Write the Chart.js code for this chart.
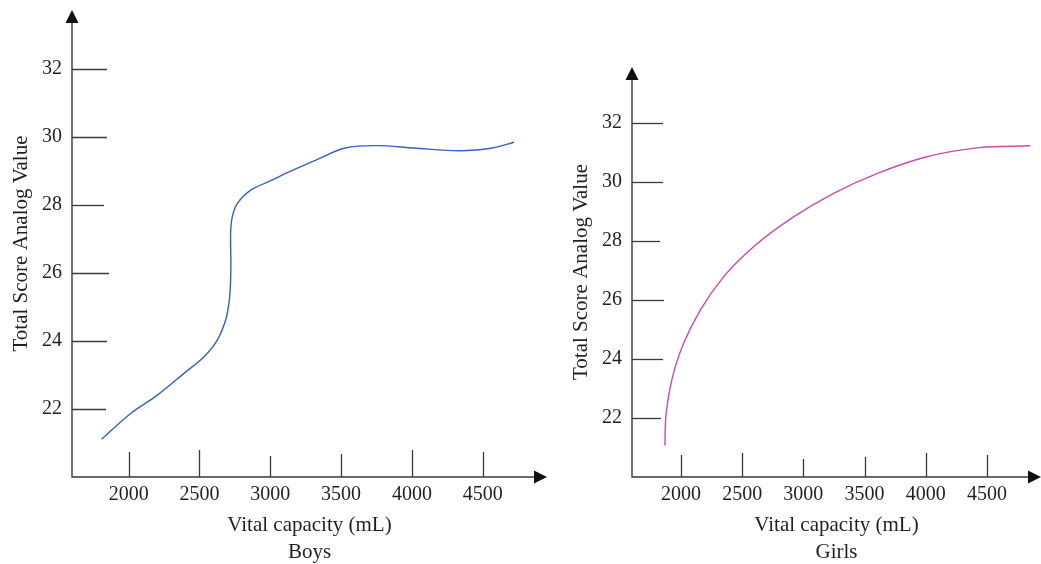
<!DOCTYPE html>
<html>
<head>
<meta charset="utf-8">
<script src="https://cdn.jsdelivr.net/npm/chart.js@4.4.1/dist/chart.umd.min.js"></script>
<style>
  html, body { margin: 0; padding: 0; background: #fff; }
  .panel { position: absolute; top: 0; height: 564px; }
  #boysWrap { left: 0; width: 560px; }
  #girlsWrap { left: 560px; width: 481px; }
</style>
</head>
<body>
<div class="panel" id="boysWrap"><canvas id="boys"></canvas></div>
<div class="panel" id="girlsWrap"><canvas id="girls"></canvas></div>
<script>
// tick labels shared by both panels
const xTicks = [2000, 2500, 3000, 3500, 4000, 4500];
const yTicks = [22, 24, 26, 28, 30, 32];

// Boys curve (vital capacity mL, score)
const boysX = [1809, 2014, 2203, 2391, 2532, 2626, 2685, 2708, 2718, 2722, 2720, 2732, 2768, 2862, 3015, 3124, 3326, 3529, 3757, 4011, 4340, 4568, 4721];
const boysY = [21.11, 21.87, 22.41, 23.05, 23.54, 24.03, 24.62, 25.11, 25.6, 26.3, 27.17, 27.66, 28.05, 28.44, 28.74, 28.96, 29.33, 29.68, 29.75, 29.68, 29.6, 29.68, 29.85];

// Girls curve
const girlsX = [1869, 1872, 1886, 1913, 1953, 2021, 2158, 2348, 2593, 2920, 3247, 3601, 4010, 4418, 4854];
const girlsY = [21.07, 21.69, 22.37, 23.05, 23.73, 24.52, 25.65, 26.78, 27.8, 28.81, 29.61, 30.28, 30.85, 31.15, 31.22];

const FONT = "'Liberation Serif', 'DejaVu Serif', serif";
const INK = '#231f20';
const AXIS = '#3a3a3a';

// hand-drawn look: tick marks have slightly uneven lengths
const boysTickLen = { x: [25, 27, 21, 23, 27, 25], y: [34, 35, 37, 32, 35, 35] };
const girlsTickLen = { x: [22, 24, 18, 20, 24, 22], y: [29, 31, 32, 28, 31, 31] };

// axes with arrowheads and inward tick marks
const arrowAxes = {
  id: 'arrowAxes',
  afterDraw(chart, args, opts) {
    const { ctx, chartArea } = chart;
    const xs = chart.scales.x;
    const ys = chart.scales.y;
    const left = chartArea.left;
    const bottom = chartArea.bottom;
    ctx.save();
    ctx.strokeStyle = AXIS;
    ctx.fillStyle = '#111';
    ctx.lineWidth = 1.4;

    ctx.beginPath();
    ctx.moveTo(left, chartArea.top + 12);
    ctx.lineTo(left, bottom);
    ctx.lineTo(chartArea.right - 12, bottom);
    ctx.stroke();

    // arrow up
    ctx.beginPath();
    ctx.moveTo(left, chartArea.top);
    ctx.lineTo(left - 6.5, chartArea.top + 13);
    ctx.lineTo(left + 6.5, chartArea.top + 13);
    ctx.closePath();
    ctx.fill();
    // arrow right
    ctx.beginPath();
    ctx.moveTo(chartArea.right, bottom);
    ctx.lineTo(chartArea.right - 13, bottom - 6.5);
    ctx.lineTo(chartArea.right - 13, bottom + 6.5);
    ctx.closePath();
    ctx.fill();

    ctx.lineWidth = 1.3;
    xTicks.forEach((v, i) => {
      const px = Math.round(xs.getPixelForValue(v)) + 0.5;
      ctx.beginPath();
      ctx.moveTo(px, bottom);
      ctx.lineTo(px, bottom - opts.len.x[i]);
      ctx.stroke();
    });
    yTicks.forEach((v, i) => {
      const py = Math.round(ys.getPixelForValue(v)) + 0.5;
      ctx.beginPath();
      ctx.moveTo(left, py);
      ctx.lineTo(left + opts.len.y[i], py);
      ctx.stroke();
    });
    ctx.restore();
  }
};

function makePanel(canvasId, xs, ys, color, caption, cfg) {
  const points = xs.map((x, i) => ({ x, y: ys[i] }));
  return new Chart(document.getElementById(canvasId), {
    type: 'line',
    data: {
      datasets: [{
        data: points,
        borderColor: color,
        borderWidth: 1.4,
        pointRadius: 0,
        tension: cfg.tension,
        cubicInterpolationMode: cfg.mode,
        fill: false,
      }],
    },
    options: {
      responsive: true,
      maintainAspectRatio: false,
      animation: false,
      events: [],
      layout: { padding: { top: cfg.top, right: cfg.right, left: 0, bottom: 0 } },
      scales: {
        x: {
          type: 'linear',
          min: 1600,
          max: cfg.xMax,
          afterBuildTicks: (s) => { s.ticks = xTicks.map(v => ({ value: v })); },
          afterFit: (s) => {
            s.height = 87;
            s.paddingLeft = 0;
            s.paddingRight = 0;
          },
          grid: { display: false, drawTicks: false },
          border: { display: false },
          ticks: {
            color: INK,
            font: { family: FONT, size: 20 },
            padding: 6,
            maxRotation: 0,
            callback: (v) => String(v),
          },
          // axis title plus the panel caption underneath, both centred on the plot
          title: {
            display: true,
            text: ['Vital capacity (mL)', caption],
            color: INK,
            font: { family: FONT, size: 21, lineHeight: 1.286 },
            padding: { top: 0, bottom: -2 },
          },
        },
        y: {
          type: 'linear',
          min: 20,
          max: cfg.yMax,
          afterBuildTicks: (s) => { s.ticks = yTicks.map(v => ({ value: v })); },
          afterFit: (s) => {
            s.width = 72;
            s.paddingTop = 0;
            s.paddingBottom = 0;
          },
          grid: { display: false, drawTicks: false },
          border: { display: false },
          ticks: {
            color: INK,
            font: { family: FONT, size: 20 },
            padding: 10,
            callback: (v) => String(v),
          },
          title: {
            display: true,
            text: 'Total Score Analog Value',
            color: INK,
            font: { family: FONT, size: 21 },
            padding: { top: 9, bottom: 0 },
          },
        },
      },
      plugins: {
        legend: { display: false },
        tooltip: { enabled: false },
        arrowAxes: { len: cfg.len },
      },
    },
    plugins: [arrowAxes],
  });
}

makePanel('boys', boysX, boysY, '#3b5fc0', 'Boys',
  { top: 10, right: 13, xMax: 4954, yMax: 33.74, len: boysTickLen, tension: 0.35, mode: 'default' });
makePanel('girls', girlsX, girlsY, '#cc4aa8', 'Girls',
  { top: 67, right: 0, xMax: 4942, yMax: 33.89, len: girlsTickLen, tension: 0.4, mode: 'monotone' });
</script>
</body>
</html>
